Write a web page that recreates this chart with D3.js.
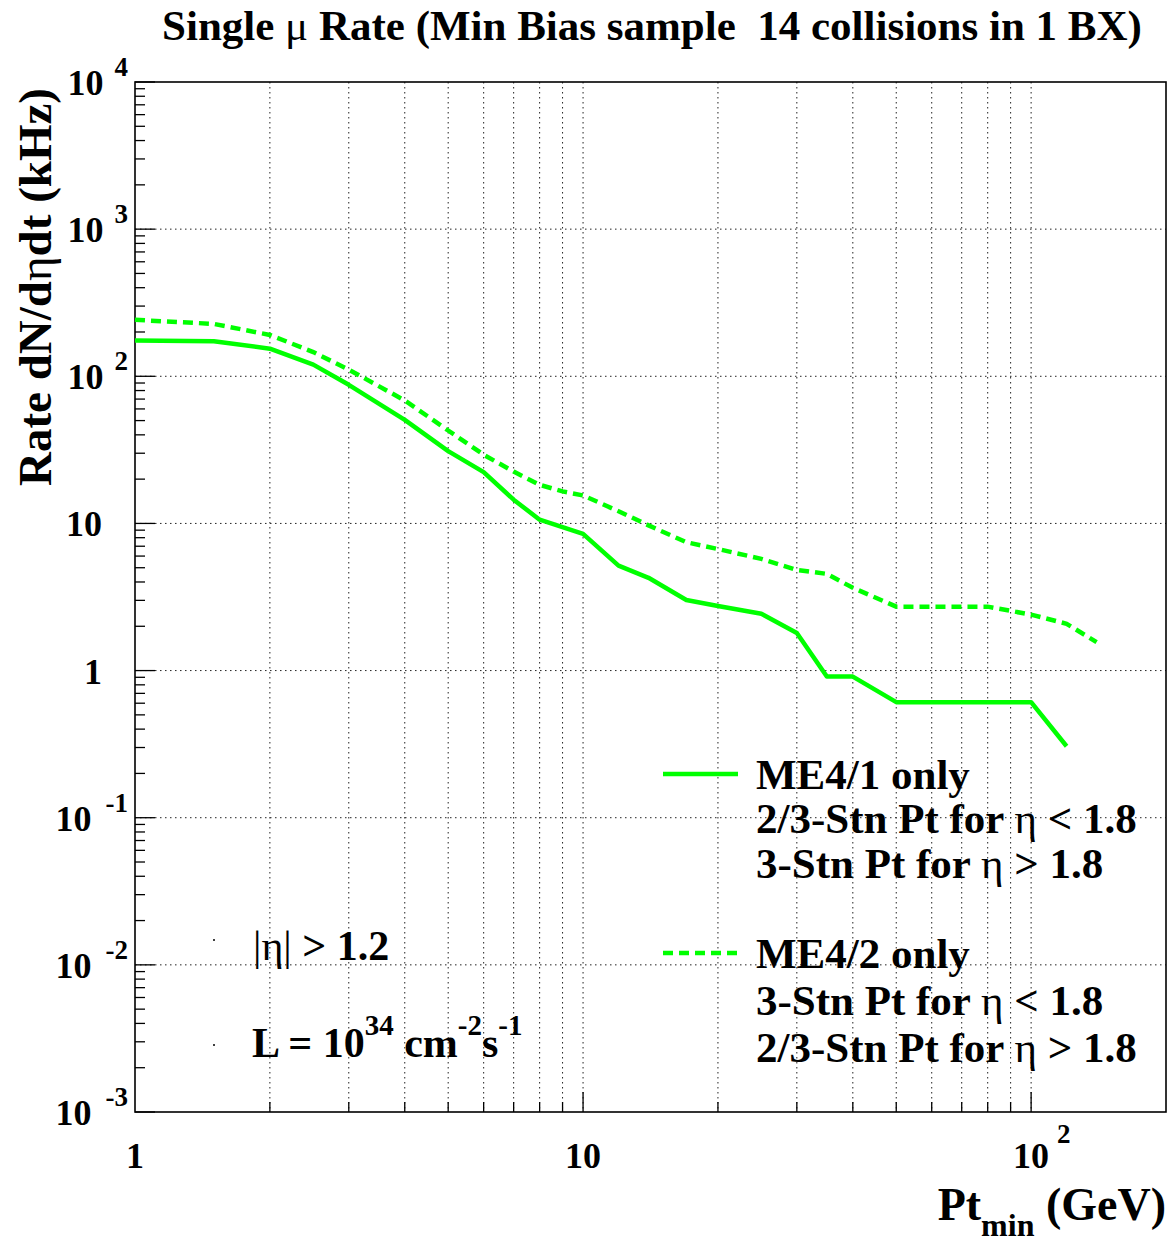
<!DOCTYPE html>
<html>
<head>
<meta charset="utf-8">
<script src="https://cdn.jsdelivr.net/npm/d3@7"></script>
<style>
  body { margin: 0; background: #fff; }
  text { font-family: "Liberation Serif", "Times New Roman", serif; font-weight: bold; white-space: pre; }
</style>
</head>
<body>
<svg width="1169" height="1244"></svg>
<script>
// values
var ptME41 = [1, 1.5, 2, 2.5, 3, 4, 5, 6, 7, 8, 10, 12, 14, 17, 20, 25, 30, 35, 40, 50, 60, 70, 80, 100, 120];
var rateME41 = [175, 173, 154, 120, 87.5, 50.6, 31, 22.3, 14.5, 10.6, 8.5, 5.17, 4.27, 3.02, 2.75, 2.43, 1.8, 0.91, 0.91, 0.61, 0.61, 0.61, 0.61, 0.61, 0.306];

var ptME42 = [1, 1.5, 2, 2.5, 3, 4, 5, 6, 7, 8, 9, 10, 12, 14, 17, 20, 25, 30, 35, 40, 50, 60, 70, 80, 100, 120, 140];
var rateME42 = [242, 227, 191, 146, 111, 68.5, 42.8, 29.3, 22.5, 18.3, 16.5, 15.5, 12.1, 9.7, 7.45, 6.7, 5.74, 4.83, 4.54, 3.65, 2.72, 2.72, 2.72, 2.72, 2.4, 2.08, 1.56];

var yTickValues = [1e4, 1e3, 1e2, 10, 1, 0.1, 0.01, 0.001];
var yTickBase = ["10", "10", "10", "10", "1", "10", "10", "10"];
var yTickExp = ["4", "3", "2", "", "", "-1", "-2", "-3"];

var xTickValues = [1, 10, 100];
var xTickBase = ["1", "10", "10"];
var xTickExp = ["", "", "2"];

var legendMain = ["ME4/1 only", "ME4/2 only"];
var legendSub = [["2/3-Stn Pt for ", "< 1.8", "3-Stn Pt for ", "> 1.8"],
                 ["3-Stn Pt for ", "< 1.8", "2/3-Stn Pt for ", "> 1.8"]];

var green = "#00ff00";

var margin = {top: 82, right: 3, bottom: 132, left: 135},
    width = 1169 - margin.left - margin.right,
    height = 1244 - margin.top - margin.bottom;

var svg = d3.select("svg");
var g = svg.append("g")
    .attr("transform", "translate(" + margin.left + "," + margin.top + ")");

var x = d3.scaleLog().domain([1, 200]).range([0, width]);
var y = d3.scaleLog().domain([1e-3, 1e4]).range([height, 0]);

// minor tick positions
var xMinor = [], yMinor = [];
[1, 10, 100].forEach(function(d) {
    for (var k = 2; k <= 9; k++) if (d * k < 200) xMinor.push(d * k);
});
xMinor.push(10, 100);
[1e-3, 1e-2, 0.1, 1, 10, 100, 1000].forEach(function(d) {
    for (var k = 2; k <= 9; k++) yMinor.push(d * k);
});

// grid
g.append("g").selectAll("line").data(xMinor).enter().append("line")
    .attr("x1", function(d) { return x(d); }).attr("x2", function(d) { return x(d); })
    .attr("y1", 0).attr("y2", height)
    .attr("stroke", "#222").attr("stroke-width", 1).attr("stroke-dasharray", "1.5,3.5");
g.append("g").selectAll("line").data(yTickValues.slice(1, -1)).enter().append("line")
    .attr("y1", function(d) { return y(d); }).attr("y2", function(d) { return y(d); })
    .attr("x1", 0).attr("x2", width)
    .attr("stroke", "#222").attr("stroke-width", 1).attr("stroke-dasharray", "1.5,3.5");

// ticks (inside the frame)
g.append("g").selectAll("line").data(yMinor).enter().append("line")
    .attr("x1", 0).attr("x2", 10)
    .attr("y1", function(d) { return y(d); }).attr("y2", function(d) { return y(d); })
    .attr("stroke", "#000").attr("stroke-width", 1.3);
g.append("g").selectAll("line").data(yTickValues).enter().append("line")
    .attr("x1", 0).attr("x2", 20)
    .attr("y1", function(d) { return y(d); }).attr("y2", function(d) { return y(d); })
    .attr("stroke", "#000").attr("stroke-width", 1.3);
g.append("g").selectAll("line").data(xMinor).enter().append("line")
    .attr("x1", function(d) { return x(d); }).attr("x2", function(d) { return x(d); })
    .attr("y1", height).attr("y2", function(d) { return (d === 10 || d === 100) ? height - 20 : height - 10; })
    .attr("stroke", "#000").attr("stroke-width", 1.3);

// frame
g.append("rect").attr("width", width).attr("height", height)
    .attr("fill", "none").attr("stroke", "#000").attr("stroke-width", 1.6);

// curves
var line = d3.line()
    .x(function(d) { return x(d[0]); })
    .y(function(d) { return y(d[1]); });

g.append("path")
    .datum(d3.zip(ptME41, rateME41))
    .attr("d", line)
    .attr("fill", "none").attr("stroke", green).attr("stroke-width", 4.5)
    .attr("stroke-linejoin", "round");

g.append("path")
    .datum(d3.zip(ptME42, rateME42))
    .attr("d", line)
    .attr("fill", "none").attr("stroke", green).attr("stroke-width", 4.5)
    .attr("stroke-dasharray", "10,6");

// y tick labels
yTickValues.forEach(function(v, i) {
    var t = svg.append("text")
        .attr("y", margin.top + y(v) + 13)
        .attr("font-size", 36);
    if (yTickExp[i]) {
        t.attr("x", 128).attr("text-anchor", "end");
        t.append("tspan").text(yTickBase[i]);
        t.append("tspan").attr("dx", yTickExp[i][0] === "-" ? 14 : 11).attr("dy", -19)
            .attr("font-size", 27).text(yTickExp[i]);
    } else {
        t.attr("x", 102).attr("text-anchor", "end").text(yTickBase[i]);
    }
});

// x tick labels
xTickValues.forEach(function(v, i) {
    var cx = margin.left + x(v);
    svg.append("text")
        .attr("x", cx).attr("y", 1168)
        .attr("text-anchor", "middle").attr("font-size", 36)
        .text(xTickBase[i]);
    if (xTickExp[i]) {
        svg.append("text")
            .attr("x", cx + 26).attr("y", 1143)
            .attr("font-size", 27)
            .text(xTickExp[i]);
    }
});

// title
var title = svg.append("text")
    .attr("x", 652).attr("y", 40)
    .attr("text-anchor", "middle").attr("font-size", 43);
title.append("tspan").text("Single ");
title.append("tspan").attr("font-weight", "normal").text("\u03bc");
title.append("tspan").text(" Rate (Min Bias sample  14 collisions in 1 BX)");

// y axis title
var ytitle = svg.append("text")
    .attr("transform", "translate(51,88) rotate(-90)")
    .attr("text-anchor", "end").attr("font-size", 47);
ytitle.append("tspan").text("Rate dN/d");
ytitle.append("tspan").attr("font-weight", "normal").text("\u03b7");
ytitle.append("tspan").text("dt (kHz)");

// x axis title
var xtitle = svg.append("text")
    .attr("x", 1166).attr("y", 1220)
    .attr("text-anchor", "end").attr("font-size", 46);
xtitle.append("tspan").text("Pt");
xtitle.append("tspan").attr("font-size", 32).attr("dy", 16).text("min");
xtitle.append("tspan").attr("dy", -16).text(" (GeV)");

// legend
var legY = [774, 953];
var legBase = [[789, 833, 878], [968, 1015, 1062]];
legendMain.forEach(function(name, i) {
    svg.append("line")
        .attr("x1", 663).attr("x2", 738)
        .attr("y1", legY[i]).attr("y2", legY[i])
        .attr("stroke", green).attr("stroke-width", 4.5)
        .attr("stroke-dasharray", i === 1 ? "10,6" : null);
    svg.append("text")
        .attr("x", 756).attr("y", legBase[i][0])
        .attr("font-size", 43).text(name);
    for (var k = 0; k < 2; k++) {
        var t = svg.append("text")
            .attr("x", 756).attr("y", legBase[i][k + 1])
            .attr("font-size", 43);
        t.append("tspan").text(legendSub[i][2 * k]);
        t.append("tspan").attr("font-weight", "normal").text("\u03b7");
        t.append("tspan").text(" " + legendSub[i][2 * k + 1]);
    }
});

// annotations
var a1 = svg.append("text").attr("x", 253).attr("y", 960).attr("font-size", 42);
a1.append("tspan").attr("font-weight", "normal").text("|\u03b7|");
a1.append("tspan").text(" > 1.2");

var a2 = svg.append("text").attr("x", 252).attr("y", 1057).attr("font-size", 42);
a2.append("tspan").text("L = 10");
a2.append("tspan").attr("font-size", 29).attr("dy", -22).text("34");
a2.append("tspan").attr("dy", 22).text(" cm");
a2.append("tspan").attr("font-size", 29).attr("dy", -22).text("-2");
a2.append("tspan").attr("dy", 22).text("s");
a2.append("tspan").attr("font-size", 29).attr("dy", -22).text("-1");

// tiny marker dots next to the annotations
svg.append("circle").attr("cx", 214).attr("cy", 940).attr("r", 1).attr("fill", "#000");
svg.append("circle").attr("cx", 214).attr("cy", 1045).attr("r", 1).attr("fill", "#000");
</script>
</body>
</html>
